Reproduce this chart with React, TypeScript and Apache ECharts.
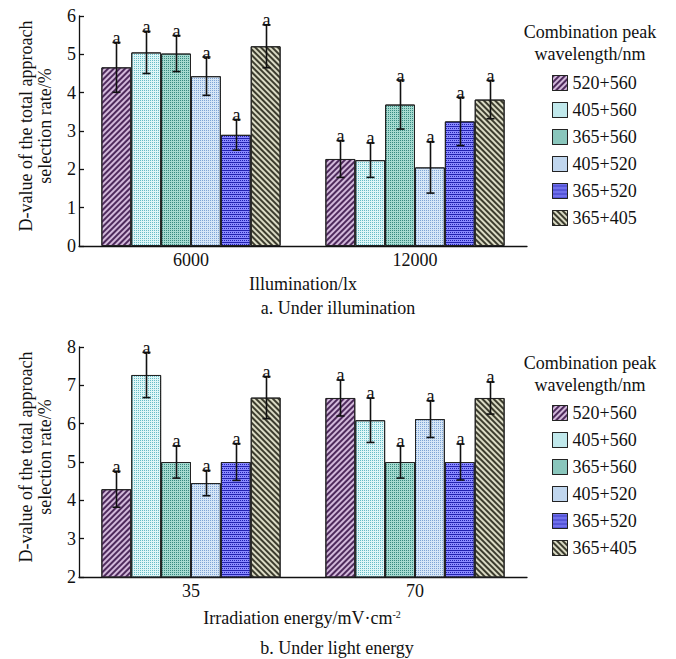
import React, { useEffect, useRef } from 'react';
import * as echarts from 'echarts';

const seriesNames = ['520+560', '405+560', '365+560', '405+520', '365+520', '365+405'];
const illumCategories = ['6000', '12000'];
const energyCategories = ['35', '70'];

const illumAt6000 = [4.66, 5.05, 5.02, 4.43, 2.9, 5.21];
const illumErr6000 = [0.65, 0.55, 0.47, 0.5, 0.4, 0.56];
const illumAt12000 = [2.27, 2.24, 3.69, 2.05, 3.25, 3.82];
const illumErr12000 = [0.48, 0.45, 0.64, 0.67, 0.63, 0.5];

const energyAt35 = [4.29, 7.27, 5.0, 4.45, 5.0, 6.68];
const energyErr35 = [0.47, 0.59, 0.42, 0.33, 0.48, 0.55];
const energyAt70 = [6.67, 6.09, 5.0, 6.12, 5.0, 6.67];
const energyErr70 = [0.47, 0.58, 0.42, 0.48, 0.47, 0.42];

const illumAxisRange = [0, 6];
const energyAxisRange = [2, 8];
const significanceLetter = 'a';

const FONT = '"Times New Roman", "Liberation Serif", serif';
const INK = '#111';

const barStyles = [
  { color: '#d2b8da', decal: { symbol: 'rect', symbolSize: 1, color: '#4e2a5c', dashArrayX: [1, 0], dashArrayY: [1.2, 1.8], rotation: -Math.PI / 4 } },
  { color: '#def6f7', decal: { symbol: 'rect', symbolSize: 1, color: '#66bcc6', dashArrayX: [1, 1], dashArrayY: [1, 1], rotation: 0 } },
  { color: '#a6dad0', decal: { symbol: 'rect', symbolSize: 1, color: '#368a80', dashArrayX: [1, 1], dashArrayY: [1, 1], rotation: 0 } },
  { color: '#d6e6f7', decal: { symbol: 'rect', symbolSize: 1, color: '#7ea4d4', dashArrayX: [1, 1], dashArrayY: [1, 1], rotation: 0 } },
  { color: '#8a8aff', decal: { symbol: 'rect', symbolSize: 1, color: '#2222b0', dashArrayX: [[2, 0], [1, 1]], dashArrayY: [1, 1], rotation: 0 } },
  { color: '#dadac4', decal: { symbol: 'rect', symbolSize: 1, color: '#3c3c2e', dashArrayX: [1, 0], dashArrayY: [1.2, 1.8], rotation: Math.PI / 4 } },
];

function buildPanel(k: number, vals: number[][], errs: number[][]) {
  const bars = seriesNames.map((name, i) => ({
    type: 'bar',
    name,
    xAxisIndex: k,
    yAxisIndex: k,
    barGap: '0%',
    barCategoryGap: '20%',
    data: vals.map((v) => v[i]),
    itemStyle: {
      color: barStyles[i].color,
      decal: barStyles[i].decal,
      borderColor: '#222',
      borderWidth: 1,
    },
    emphasis: { disabled: true },
  }));
  const errData: number[][] = [];
  vals.forEach((v, c) => {
    v.forEach((val, i) => errData.push([c, val, errs[c][i], i]));
  });
  const custom = {
    type: 'custom',
    xAxisIndex: k,
    yAxisIndex: k,
    z: 5,
    clip: false,
    silent: true,
    data: errData,
    renderItem: (params: any, api: any) => {
      const c = api.value(0);
      const val = api.value(1);
      const err = api.value(2);
      const si = api.value(3);
      const center = api.coord([c, val]);
      const band = api.size([1, 0])[0];
      const bw = (band * 0.8) / seriesNames.length;
      const x = Math.round(center[0] - band * 0.4 + bw * (si + 0.5)) + 0.5;
      const top = api.coord([c, val + err])[1];
      const bot = api.coord([c, val - err])[1];
      const ls = { stroke: INK, lineWidth: 1.6 };
      return {
        type: 'group',
        children: [
          { type: 'line', shape: { x1: x, y1: top, x2: x, y2: bot }, style: ls },
          { type: 'line', shape: { x1: x - 4, y1: top, x2: x + 4, y2: top }, style: ls },
          { type: 'line', shape: { x1: x - 4, y1: bot, x2: x + 4, y2: bot }, style: ls },
          {
            type: 'text',
            x,
            y: top + 4.5,
            style: {
              text: significanceLetter,
              textAlign: 'center',
              textVerticalAlign: 'bottom',
              fontSize: 18,
              fontFamily: FONT,
              fill: INK,
            },
          },
        ],
      };
    },
  };
  return [...bars, custom];
}

function makeAxes(k: number, cats: string[], range: number[], top: number) {
  const grid = { left: 79, top, width: 448, height: 230 };
  const xAxis = {
    type: 'category',
    gridIndex: k,
    data: cats,
    boundaryGap: true,
    axisLine: { lineStyle: { color: INK, width: 1.3 } },
    axisTick: { inside: true, length: 5, interval: 0, lineStyle: { color: INK, width: 1.3 } },
    axisLabel: { color: INK, fontSize: 18, fontFamily: FONT, margin: 5, interval: 0 },
    splitLine: { show: false },
  };
  const yAxis = {
    type: 'value',
    gridIndex: k,
    min: range[0],
    max: range[1],
    interval: 1,
    axisLine: { show: true, lineStyle: { color: INK, width: 1.3 } },
    axisTick: { show: true, inside: true, length: 5, lineStyle: { color: INK, width: 1.3 } },
    axisLabel: { color: INK, fontSize: 18, fontFamily: FONT, margin: 3 },
    splitLine: { show: false },
  };
  return { grid, xAxis, yAxis };
}

function legendFor(top: number) {
  return {
    orient: 'vertical',
    left: 547,
    top,
    itemWidth: 15,
    itemHeight: 15,
    itemGap: 9,
    icon: 'rect',
    data: seriesNames,
    selectedMode: false,
    itemStyle: { borderColor: '#222', borderWidth: 1 },
    textStyle: { color: INK, fontSize: 18, fontFamily: FONT },
  };
}

function textEl(x: number, y: number, text: string, extra: any = {}) {
  return {
    type: 'text',
    x,
    y,
    silent: true,
    ...extra,
    style: {
      text,
      textAlign: 'center',
      textVerticalAlign: 'middle',
      fontSize: 18,
      fontFamily: FONT,
      fill: INK,
      ...(extra.style || {}),
    },
  };
}

export default function App() {
  const ref = useRef<HTMLDivElement>(null);
  useEffect(() => {
    if (!ref.current) return;
    const chart = echarts.init(ref.current, undefined, { renderer: 'svg' });
    const a = makeAxes(0, illumCategories, illumAxisRange, 16);
    const b = makeAxes(1, energyCategories, energyAxisRange, 347);
    const yTitle = 'D-value of the total approach\nselection rate/%';
    chart.setOption({
      animation: false,
      backgroundColor: '#fff',
      grid: [a.grid, b.grid],
      xAxis: [a.xAxis, b.xAxis],
      yAxis: [a.yAxis, b.yAxis],
      legend: [legendFor(69), legendFor(399)],
      series: [
        ...buildPanel(0, [illumAt6000, illumAt12000], [illumErr6000, illumErr12000]),
        ...buildPanel(1, [energyAt35, energyAt70], [energyErr35, energyErr70]),
      ],
      graphic: [
        textEl(35, 126, yTitle, { rotation: Math.PI / 2, style: { lineHeight: 19 } }),
        textEl(35, 457, yTitle, { rotation: Math.PI / 2, style: { lineHeight: 19 } }),
        textEl(303, 284, 'Illumination/lx'),
        textEl(338, 308, 'a. Under illumination'),
        textEl(302, 618, 'Irradiation energy/mV·cm{s|-2}', {
          style: {
            rich: { s: { fontSize: 10, fontFamily: FONT, fill: INK, verticalAlign: 'top', padding: [0, 0, 8, 0] } },
          },
        }),
        textEl(337, 648, 'b. Under light energy'),
        textEl(590, 43, 'Combination peak\nwavelength/nm', { style: { lineHeight: 22 } }),
        textEl(590, 374, 'Combination peak\nwavelength/nm', { style: { lineHeight: 22 } }),
      ],
    });
    return () => chart.dispose();
  }, []);
  return (
    <div
      ref={ref}
      style={{ position: 'fixed', left: 0, top: 0, width: 676, height: 659, background: '#fff' }}
    />
  );
}
